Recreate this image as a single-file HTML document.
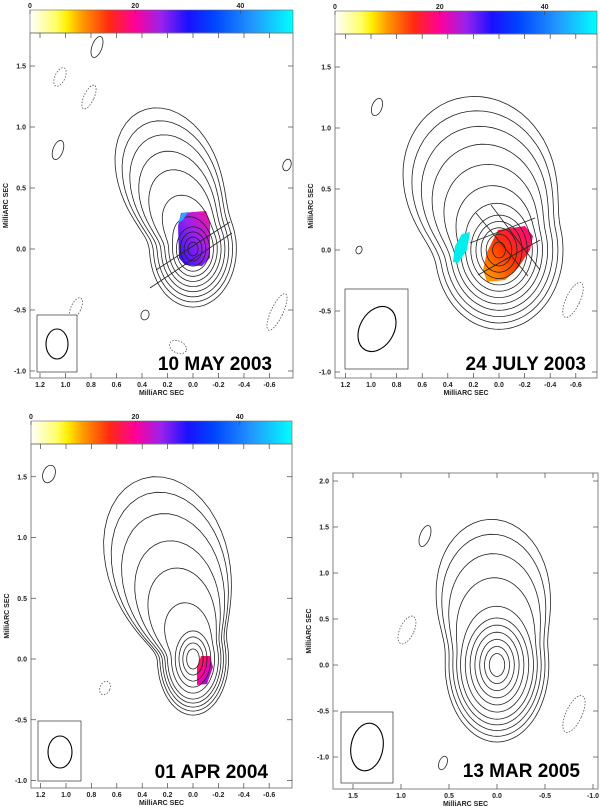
<!DOCTYPE html>
<html><head><meta charset="utf-8">
<style>
html,body{margin:0;padding:0;background:#fff;}
svg{display:block;font-family:"Liberation Sans",sans-serif;}
.tk{font-size:7px;font-weight:bold;fill:#222;}
.ttl{font-size:19px;font-weight:bold;fill:#000;}
</style></head>
<body>
<svg id="fig" width="600" height="807" viewBox="0 0 600 807" xmlns="http://www.w3.org/2000/svg">
<defs>
<linearGradient id="cbar" x1="0" x2="1" y1="0" y2="0">
<stop offset="0" stop-color="#ffffff"/>
<stop offset="0.1" stop-color="#ffff66"/>
<stop offset="0.14" stop-color="#ffee00"/>
<stop offset="0.2" stop-color="#ff9900"/>
<stop offset="0.3" stop-color="#ff2a10"/>
<stop offset="0.4" stop-color="#ff0099"/>
<stop offset="0.5" stop-color="#9922ee"/>
<stop offset="0.6" stop-color="#1a10ff"/>
<stop offset="0.7" stop-color="#0044ff"/>
<stop offset="0.85" stop-color="#2299ff"/>
<stop offset="1" stop-color="#00ffff"/>
</linearGradient>
<linearGradient id="g1" x1="1" x2="0" y1="0" y2="1">
<stop offset="0" stop-color="#ff10a0"/><stop offset="0.45" stop-color="#9922ee"/><stop offset="1" stop-color="#2a10ff"/>
</linearGradient>
<linearGradient id="g2" x1="0" x2="1" y1="1" y2="0">
<stop offset="0" stop-color="#ffaa00"/><stop offset="0.5" stop-color="#ff3300"/><stop offset="1" stop-color="#ff0090"/>
</linearGradient>
<linearGradient id="g3" x1="0" x2="1" y1="0" y2="1">
<stop offset="0" stop-color="#ff2020"/><stop offset="0.5" stop-color="#ff00aa"/><stop offset="1" stop-color="#4422ff"/>
</linearGradient>
</defs>
<g id="layer"></g>
</svg>
<script>
// Contour data per panel (mas): core half-widths and jet extensions per contour level
const p1Core = [0.04,0.07,0.1,0.13,0.16,0.19,0.22,0.25,0.28,0.31,0.34];
const p1Jet  = [0,0,0,0,0.05,0.2,0.38,0.5,0.6,0.68,0.75];
const p2Core = [0.05,0.1,0.14,0.18,0.22,0.26,0.3,0.34,0.38,0.42,0.46,0.5];
const p2Jet  = [0,0,0,0,0,0.05,0.15,0.28,0.4,0.5,0.58,0.65];
const p3Core = [0.05,0.08,0.11,0.14,0.17,0.2,0.22,0.24,0.26,0.28];
const p3Jet  = [0,0,0,0,0.2,0.45,0.65,0.85,1.0,1.1];
const p4Core = [0.08,0.13,0.18,0.23,0.28,0.33,0.38,0.42,0.46,0.5,0.54];
const p4Jet  = [0,0,0,0,0,0,0.05,0.3,0.5,0.65,0.75];
const cbTicks = [0,20,40];
const dates = ["10 MAY 2003","24 JULY 2003","01 APR 2004","13 MAR 2005"];

const NS="http://www.w3.org/2000/svg";
const layer=document.getElementById('layer');
function el(t,a,p){const e=document.createElementNS(NS,t);for(const k in a)e.setAttribute(k,a[k]);(p||layer).appendChild(e);return e;}

const panels=[
 {fx:30,fy:33,fw:263,fh:345,x0:193,sx:127.5,y0:249,sy:122,xt:[1.2,1.0,0.8,0.6,0.4,0.2,0.0,-0.2,-0.4,-0.6],yt:[1.5,1.0,0.5,0.0,-0.5,-1.0],core:p1Core,jet:p1Jet,ratio:1.4,phi:70,pw:5,cb:true,beam:[37,315,40,57,57,344,11,15,0],title:dates[0],tx:272,ty:370},
 {fx:335,fy:34,fw:262,fh:344,x0:499,sx:128,y0:250,sy:122,xt:[1.2,1.0,0.8,0.6,0.4,0.2,0.0,-0.2,-0.4,-0.6],yt:[1.5,1.0,0.5,0.0,-0.5,-1.0],core:p2Core,jet:p2Jet,ratio:1.3,phi:72,pw:2.5,cb:true,beam:[345,289,63,80,377,329,17,24,30],title:dates[1],tx:586,ty:370},
 {fx:31,fy:444,fw:261,fh:344,x0:193,sx:127,y0:659,sy:121.5,xt:[1.2,1.0,0.8,0.6,0.4,0.2,0.0,-0.2,-0.4,-0.6],yt:[1.5,1.0,0.5,0.0,-0.5,-1.0],core:p3Core,jet:p3Jet,ratio:1.65,phi:74,pw:4.5,cb:true,beam:[38,721,43,60,60,752,12,16,0],title:dates[2],tx:268,ty:778},
 {fx:333,fy:473,fw:265,fh:316,x0:497,sx:96,y0:665,sy:92,xt:[1.5,1.0,0.5,0.0,-0.5,-1.0],yt:[2.0,1.5,1.0,0.5,0.0,-0.5,-1.0],core:p4Core,jet:p4Jet,ratio:1.55,phi:86,pw:4,cb:false,beam:[341,712,52,71,367,747,16,24,10],title:dates[3],tx:580,ty:777}
];

panels.forEach((P,i)=>{
 const g=el('g',{});
 
 
 const X=v=>P.x0-v*P.sx, Y=v=>P.y0-v*P.sy;
 const cid='clip'+i;
 const cp=el('clipPath',{id:cid},g);
 el('rect',{x:P.fx,y:P.fy,width:P.fw,height:P.fh},cp);
 if(P.cb){
  const cb=el('rect',{x:P.fx,y:P.fy-23,width:P.fw,height:23,fill:'url(#cbar)',stroke:'#666','stroke-width':0.6},g);
  
  
  cbTicks.forEach(t=>{
   const x=P.fx+t*P.fw/50;
   const tl=el('text',{x:x,y:P.fy-25,'text-anchor':'middle',class:'tk'},g);
   tl.textContent=t;
   
   
   el('line',{x1:x,x2:x,y1:P.fy-23,y2:P.fy-19,stroke:'#444','stroke-width':0.6},g);
  });
 }
 const cg=el('g',{'clip-path':'url(#'+cid+')',fill:'none',stroke:'#222','stroke-width':0.8},g);
 
 
 const phi=P.phi*Math.PI/180;
 P.core.forEach((a,k)=>{
  const j=P.jet[k];let d='';
  for(let s=0;s<=120;s++){
   const th=s/120*2*Math.PI;
   const b=a*P.ratio;
   const re=a*b/Math.sqrt((b*Math.cos(th))**2+(a*Math.sin(th))**2);
   const c=Math.cos(th-phi);
   const r=re+j*Math.pow(Math.max(0,c),P.pw);
   const vx=r*Math.cos(th), vy=r*Math.sin(th);
   d+=(s?'L':'M')+X(vx).toFixed(1)+','+Y(vy).toFixed(1);
  }
  const pth=el('path',{d:d+'Z'},cg);
  
  
 });
 P.cg=cg;P.X=X;P.Y=Y;
 const fr=el('rect',{x:P.fx,y:P.fy,width:P.fw,height:P.fh,fill:'none',stroke:'#777','stroke-width':0.9},g);
 
 
 P.xt.forEach(v=>{
  const x=X(v);
  el('line',{x1:x,x2:x,y1:P.fy,y2:P.fy+5,stroke:'#444','stroke-width':0.7},g);
  el('line',{x1:x,x2:x,y1:P.fy+P.fh,y2:P.fy+P.fh-5,stroke:'#444','stroke-width':0.7},g);
  const t=el('text',{x:x,y:P.fy+P.fh+9,'text-anchor':'middle',class:'tk'},g);
  t.textContent=v.toFixed(1);
  
  
 });
 P.yt.forEach(v=>{
  const y=Y(v);
  el('line',{x1:P.fx,x2:P.fx+5,y1:y,y2:y,stroke:'#444','stroke-width':0.7},g);
  el('line',{x1:P.fx+P.fw,x2:P.fx+P.fw-5,y1:y,y2:y,stroke:'#444','stroke-width':0.7},g);
  const t=el('text',{x:P.fx-4,y:y+2.5,'text-anchor':'end',class:'tk'},g);
  t.textContent=v.toFixed(1);
  
  
 });
 const xl=el('text',{x:P.fx+P.fw/2,y:P.fy+P.fh+17,'text-anchor':'middle',class:'tk'},g);
 xl.textContent='MilliARC SEC';
 
 
 const yy=P.fy+P.fh/2;
 const yl=el('text',{x:P.fx-22,y:yy,'text-anchor':'middle',class:'tk',transform:'rotate(-90 '+(P.fx-22)+' '+yy+')'},g);
 yl.textContent='MilliARC SEC';
 
 
 const B=P.beam;
 const bb=el('rect',{x:B[0],y:B[1],width:B[2],height:B[3],fill:'#fff',stroke:'#333','stroke-width':0.7},g);
 
 
 const be=el('ellipse',{cx:B[4],cy:B[5],rx:B[6],ry:B[7],fill:'none',stroke:'#000','stroke-width':1.1,transform:'rotate('+B[8]+' '+B[4]+' '+B[5]+')'},g);
 
 
 const tt=el('text',{x:P.tx,y:P.ty,'text-anchor':'end',class:'ttl'},g);
 tt.textContent=P.title;
 
 
});

const p1=el('path',{d:'M181,213 L206,211 L210,222 L210,258 L202,266 L185,265 L179,258 L178,226 Z',fill:'url(#g1)',stroke:'none'},panels[0].cg);


panels[0].cg.insertBefore(p1,panels[0].cg.firstChild);
const p1b=el('path',{d:'M178,223 L182,213 L188,212 L183,220 Z',fill:'#22aaff',stroke:'none'},panels[0].cg);


const p2=el('path',{d:'M498,230 L525,226 L533,236 L530,250 L518,268 L505,280 L487,282 L483,270 L487,252 Z',fill:'url(#g2)',stroke:'none'},panels[1].cg);


panels[1].cg.insertBefore(p2,panels[1].cg.firstChild);
const p2b=el('path',{d:'M462,234 L470,232 L467,250 L458,263 L453,262 L455,246 Z',fill:'#00eeee',stroke:'none'},panels[1].cg);


const p3=el('path',{d:'M201,656 L210,656 L213,667 L207,684 L197,685 L197,668 Z',fill:'url(#g3)',stroke:'none'},panels[2].cg);


panels[2].cg.insertBefore(p3,panels[2].cg.firstChild);
[[150,288,232,233],[156,270,230,222]].forEach(l=>{el('line',{x1:l[0],y1:l[1],x2:l[2],y2:l[3]},panels[0].cg);});
[[476,213,528,276],[491,205,540,270],[470,243,535,218],[478,275,540,240]].forEach(l=>{el('line',{x1:l[0],y1:l[1],x2:l[2],y2:l[3]},panels[1].cg);});
[[0,97,47,5,11],[0,125,23,4,5],[0,287,165,4,6],[0,145,315,4,5],[0,58,150,5,10],[1,377,107,5,9],[1,359,250,3,4],[2,49,474,6,9],[3,425,536,5,11],[3,443,763,4,7]].forEach(b=>{
 const e=el('ellipse',{cx:b[1],cy:b[2],rx:b[3],ry:b[4],transform:'rotate(20 '+b[1]+' '+b[2]+')'},panels[b[0]].cg);
 
 
});
[[0,60,77,5,10],[0,89,97,5,13],[0,76,308,5,11],[0,277,312,6,20],[0,178,347,9,6],[1,573,300,7,19],[2,105,688,5,7],[3,407,630,7,15],[3,574,714,8,20]].forEach(b=>{
 const e=el('ellipse',{cx:b[1],cy:b[2],rx:b[3],ry:b[4],'stroke-dasharray':'1.5,1.5',stroke:'#555',transform:'rotate(25 '+b[1]+' '+b[2]+')'},panels[b[0]].cg);
 
 
});
</script>
</body></html>
